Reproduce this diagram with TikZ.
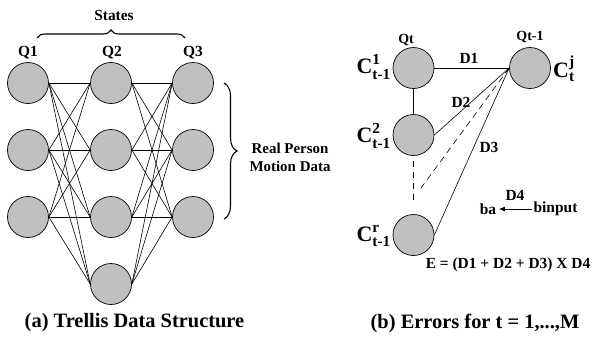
\documentclass[tikz,border=0pt]{standalone}
\usepackage{amsmath}
\usepackage{fontspec}
\setmainfont{Liberation Serif}
\usetikzlibrary{decorations.pathreplacing,arrows.meta}
\definecolor{nodegray}{RGB}{192,192,192}
\tikzset{
  st/.style={circle,draw,fill=nodegray,minimum size=41bp,inner sep=0pt,line width=0.7bp},
  conn/.style={line width=0.6bp},
  qlbl/.style={font=\bfseries\fontsize{15.5}{15.5}\selectfont,inner sep=0pt},
  qtlbl/.style={font=\bfseries\fontsize{14}{14}\selectfont,inner sep=0pt},
  dlbl/.style={font=\bfseries\fontsize{15.5}{15.5}\selectfont,inner sep=0pt},
  clbl/.style={font=\bfseries\fontsize{22}{22}\selectfont,inner sep=0pt,anchor=east},
  captext/.style={font=\bfseries\fontsize{20.5}{20.5}\selectfont,inner sep=0pt},
  bracestyle/.style={decorate,decoration={brace,amplitude=#1},line width=1.1bp},
}
\begin{document}
\begin{tikzpicture}[x=1bp,y=-1bp]
\useasboundingbox (0,0) rectangle (595,336);
% ---------- (a) trellis ----------
\foreach \i/\y in {1/83,2/150,3/217} {
  \node[st] (a\i) at (28,\y) {};
  \node[st] (c\i) at (193,\y) {};
}
\foreach \j/\y in {1/83,2/150,3/217,4/284} {
  \node[st] (b\j) at (111,\y) {};
}
\foreach \i in {1,2,3} {
  \foreach \j in {1,2,3,4} {
    \draw[conn] (a\i.east) -- (b\j.west);
    \draw[conn] (b\j.east) -- (c\i.west);
  }
}
\node[qlbl] (q1) at (28,53) {Q1};
\node[qlbl] (q2) at (112,53) {Q2};
\node[qlbl] (q3) at (193,53) {Q3};
\node[qlbl] (states) at (114,15) {States};
\coordinate (bl) at (37,38);
\coordinate (br) at (185,38);
\draw[bracestyle=8bp] (bl) -- (br);
\coordinate (rt) at (224,83);
\coordinate (rb) at (224,219);
\draw[bracestyle=13bp] (rt) -- (rb);
\node[dlbl,font=\bfseries\fontsize{15}{15}\selectfont,align=center] (rpm) at (290,157.5) {Real Person\\[3bp]Motion Data};
\node[captext] (capa) at (134.5,323) {(a) Trellis Data Structure};
% ---------- (b) errors ----------
\node[st] (p1) at (413.5,68) {};
\node[st] (p2) at (413.5,135) {};
\node[st] (pr) at (413.5,235) {};
\node[st] (qj) at (530,68) {};
\coordinate (dend) at (421,188);
\draw[conn] (p1.east) -- (qj.west);
\draw[conn] (p1.south) -- (p2.north);
\draw[conn] (p2.east) -- (qj.west);
\draw[conn,dash pattern=on 6.5bp off 4.5bp,shorten <=5bp,shorten >=12bp] (p2.south) -- (pr.north);
\draw[conn,dash pattern=on 6.5bp off 4.5bp] (qj.west) -- (dend);
\draw[conn] (qj.west) -- (pr.east);
\node[qtlbl] (qt) at (406,40) {Qt};
\node[qtlbl] (qt1) at (530,37) {Qt-1};
\node[clbl] (c1l) at (391,67) {$\text{C}^{\text{1}}_{\text{t-1}}$};
\node[clbl] (c2l) at (391,136) {$\text{C}^{\text{2}}_{\text{t-1}}$};
\node[clbl] (crl) at (391,236) {$\text{C}^{\text{r}}_{\text{t-1}}$};
\node[clbl,anchor=west] (cjl) at (553,69) {$\text{C}^{\text{j}}_{\text{t}}$};
\node[dlbl] (d1) at (469,58) {D1};
\node[dlbl] (d2) at (461,102) {D2};
\node[dlbl] (d3) at (489,147) {D3};
\node[dlbl] (d4) at (515,195) {D4};
\node[dlbl,inner sep=2.5bp] (ba) at (488,209) {ba};
\node[dlbl,inner sep=1.5bp] (bin) at (555.5,209) {binput};
\draw[conn,line width=0.8bp,-{Latex[length=6bp,width=5bp]}] (bin) -- (ba);
\node[dlbl] (eq) at (508,265) {E = (D1 + D2 + D3) X D4};
\node[captext] (capb) at (475,323) {(b) Errors for t = 1,...,M};
\end{tikzpicture}
\end{document}
